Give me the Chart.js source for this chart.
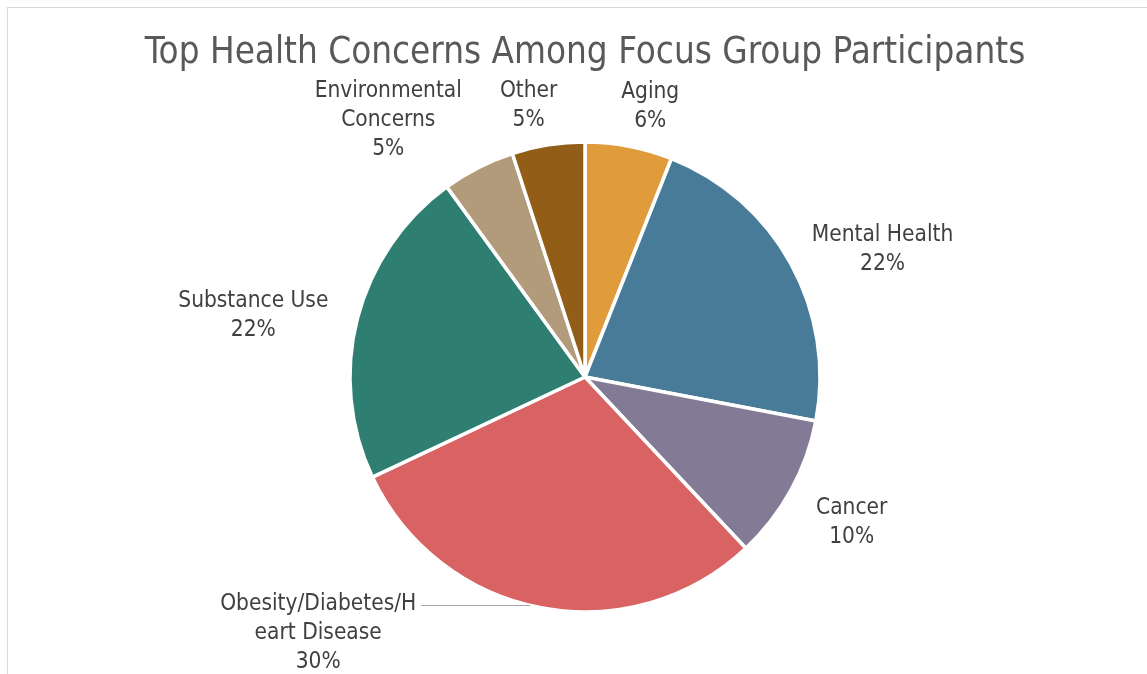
<!DOCTYPE html>
<html>
<head>
<meta charset="utf-8">
<title>Top Health Concerns</title>
<script src="https://cdn.jsdelivr.net/npm/chart.js@4.4.1/dist/chart.umd.min.js"></script>
<style>
  html, body { margin: 0; background: #fff; }
  #wrap { width: 1147px; height: 674px; position: relative; }
</style>
</head>
<body>
<div id="wrap"><canvas id="concernsChart"></canvas></div>
<script>
const concerns = ["Aging", "Mental Health", "Cancer", "Obesity/Diabetes/Heart Disease", "Substance Use", "Environmental Concerns", "Other"];
const shares = [6, 22, 10, 30, 22, 5, 5];
const sliceColors = ["#E09B3B", "#477B98", "#837A95", "#D96262", "#2E7F72", "#B29B7B", "#925E17"];

const FONT_FAMILY = '"DejaVu Sans Condensed", "DejaVu Sans", sans-serif';
const LABEL_FONT = "22.5px " + FONT_FAMILY;
const LINE_H = 29;
const WRAP_W = 200;
const LABEL_GAP = 20;
const LABEL_DROP = 9;
const MIN_GAP = 38;
const LEADER_LEN = 109;

// break text into lines no wider than maxW; a word that is too long gets split by character
function wrapText(ctx, text, maxW) {
  const lines = [];
  let line = "";
  text.split(" ").forEach(word => {
    const trial = line ? line + " " + word : word;
    if (ctx.measureText(trial).width <= maxW) { line = trial; return; }
    if (line) { lines.push(line); line = ""; }
    let rest = word;
    while (ctx.measureText(rest).width > maxW) {
      let n = rest.length;
      while (n > 1 && ctx.measureText(rest.slice(0, n)).width > maxW) n--;
      lines.push(rest.slice(0, n));
      rest = rest.slice(n);
    }
    line = rest;
  });
  if (line) lines.push(line);
  return lines;
}

// thin grey frame round the chart
const chartFrame = {
  id: "chartFrame",
  beforeDraw(chart) {
    const ctx = chart.ctx;
    ctx.save();
    ctx.strokeStyle = "#d9d9d9";
    ctx.lineWidth = 1;
    ctx.strokeRect(7.5, 7.5, chart.width, chart.height);
    ctx.restore();
  }
};

// category + percent labels outside each slice, with a leader line when a label is pushed off the bottom
const outsideLabels = {
  id: "outsideLabels",
  afterDatasetsDraw(chart) {
    const ctx = chart.ctx;
    const meta = chart.getDatasetMeta(0);
    const total = shares.reduce((a, b) => a + b, 0);
    ctx.save();
    ctx.font = LABEL_FONT;

    const boxes = meta.data.map((arc, i) => {
      const p = arc.getProps(["x", "y", "startAngle", "endAngle", "outerRadius"], true);
      const mid = (p.startAngle + p.endAngle) / 2;
      const dx = Math.cos(mid), dy = Math.sin(mid);
      const pct = Math.round(shares[i] / total * 100) + "%";
      const lines = wrapText(ctx, concerns[i], WRAP_W).concat(pct);
      const w = Math.max(...lines.map(l => ctx.measureText(l).width));
      const h = lines.length * LINE_H;
      const r = p.outerRadius + LABEL_GAP;
      const box = {
        cx: p.x + dx * r + dx * w / 2 + Math.sign(dx) * 12,
        cy: p.y + dy * r + dy * h / 2 + LABEL_DROP,
        w, h, lines, leader: null, ox: p.x
      };

      // too low to fit: pin it to the bottom edge and pull it out sideways
      if (box.cy + h / 2 > chart.height + 3) {
        box.cy = chart.height + 3 - h / 2;
        const ly = box.cy - h / 2 + LINE_H / 2;
        const rr = p.outerRadius - 1;
        const off = Math.sqrt(Math.max(rr * rr - (ly - p.y) * (ly - p.y), 0));
        const side = dx < 0 ? -1 : 1;
        const edgeX = p.x + side * off;
        const nearX = edgeX + side * LEADER_LEN;
        box.cx = nearX + side * (5 + w / 2);
        box.leader = { x1: nearX, x2: edgeX, y: ly };
      }
      return box;
    });

    // spread labels that crowd each other sideways
    for (let pass = 0; pass < 4; pass++) {
      for (let i = 0; i < boxes.length; i++) {
        for (let j = i + 1; j < boxes.length; j++) {
          const a = boxes[i], b = boxes[j];
          if (Math.abs(a.cy - b.cy) >= (a.h + b.h) / 2) continue;
          const gap = Math.abs(a.cx - b.cx) - (a.w + b.w) / 2;
          if (gap >= MIN_GAP) continue;
          const outer = Math.abs(a.cx - a.ox) > Math.abs(b.cx - b.ox) ? a : b;
          const inner = outer === a ? b : a;
          outer.cx += Math.sign(outer.cx - inner.cx) * (MIN_GAP - gap);
        }
      }
    }

    ctx.fillStyle = "#404040";
    ctx.textAlign = "center";
    ctx.textBaseline = "middle";
    boxes.forEach(b => {
      b.lines.forEach((line, k) => {
        ctx.fillText(line, b.cx, b.cy - b.h / 2 + LINE_H * (k + 0.5));
      });
      if (b.leader) {
        ctx.strokeStyle = "#a6a6a6";
        ctx.lineWidth = 1;
        ctx.beginPath();
        ctx.moveTo(b.leader.x1, Math.round(b.leader.y) + 0.5);
        ctx.lineTo(b.leader.x2, Math.round(b.leader.y) + 0.5);
        ctx.stroke();
      }
    });
    ctx.restore();
  }
};

const ctx = document.getElementById("concernsChart").getContext("2d");
new Chart(ctx, {
  type: "pie",
  data: {
    labels: concerns,
    datasets: [{
      data: shares,
      backgroundColor: sliceColors,
      borderColor: "#ffffff",
      borderWidth: 3.5,
      hoverOffset: 0
    }]
  },
  options: {
    responsive: true,
    maintainAspectRatio: false,
    animation: false,
    layout: { padding: { top: 0, left: 23, right: 0, bottom: 60.25 } },
    plugins: {
      legend: { display: false },
      tooltip: { enabled: false },
      title: {
        display: true,
        text: "Top Health Concerns Among Focus Group Participants",
        color: "#595959",
        font: { family: FONT_FAMILY, size: 36.5, weight: "normal", lineHeight: 1.2 },
        padding: { top: 32, bottom: 64.45 }
      }
    }
  },
  plugins: [chartFrame, outsideLabels]
});
</script>
</body>
</html>
